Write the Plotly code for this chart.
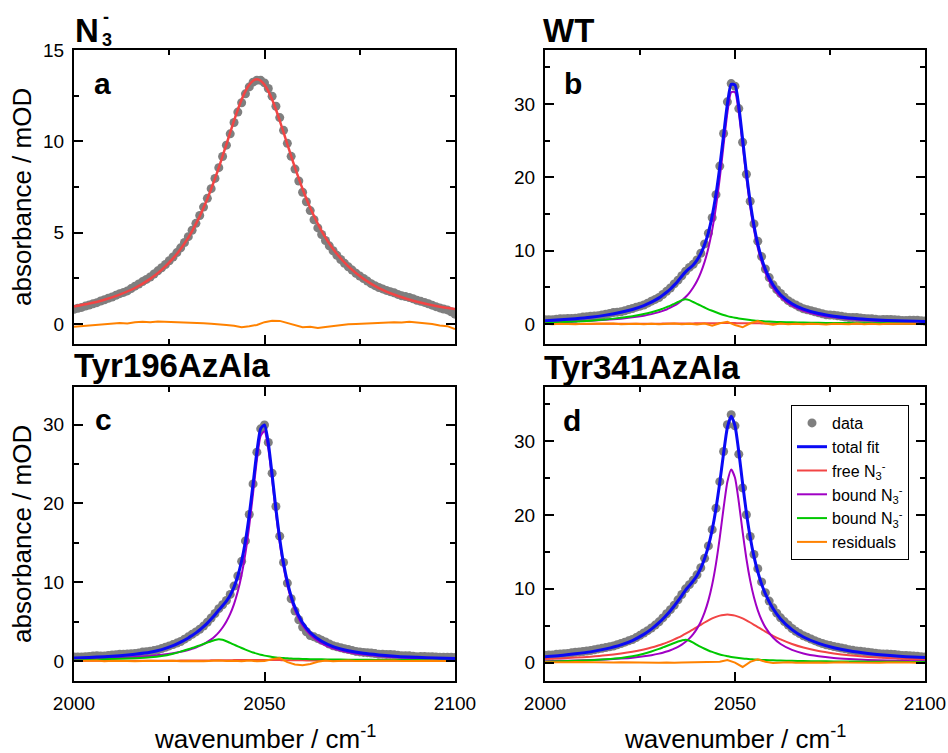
import plotly.graph_objects as go

FONT = "Liberation Sans, Arial, sans-serif"
W, H = 948, 753

# ---------------------------------------------------------------- x grids
WAVENUMBER = list(range(2000, 2101))           # measured spectra, 1 cm-1 steps
RES_WAVENUMBER = list(range(2000, 2101, 2))    # residual traces, 2 cm-1 steps
FIT_WAVENUMBER = [2000, 2004, 2008, 2012, 2016, 2020, 2023, 2026, 2028,
                  2030, 2031, 2032, 2033, 2034, 2035, 2036, 2037, 2038, 2039,
                  2040, 2041, 2042, 2043, 2044, 2045, 2046, 2047, 2048, 2049,
                  2050, 2051, 2052, 2053, 2054, 2055, 2056, 2057, 2058,
                  2060, 2062, 2065, 2068, 2072, 2076, 2080, 2085, 2090, 2095, 2100]

# ---------------------------------------------------------------- panel a: free azide
DATA_A = [0.81, 0.86, 0.91, 0.98, 1.04, 1.11, 1.17, 1.26, 1.33, 1.41,
          1.48, 1.57, 1.66, 1.73, 1.81, 1.94, 2.07, 2.19, 2.32, 2.44,
          2.57, 2.74, 2.91, 3.08, 3.26, 3.46, 3.67, 3.91, 4.17, 4.46,
          4.78, 5.13, 5.51, 5.94, 6.40, 6.88, 7.41, 7.97, 8.56, 9.17,
          9.79, 10.41, 11.03, 11.60, 12.11, 12.60, 12.98, 13.24, 13.35, 13.34,
          13.20, 12.89, 12.47, 11.92, 11.30, 10.60, 9.89, 9.18, 8.48, 7.83,
          7.21, 6.69, 6.21, 5.71, 5.26, 4.90, 4.57, 4.28, 4.01, 3.76,
          3.53, 3.32, 3.13, 2.95, 2.78, 2.63, 2.49, 2.35, 2.21, 2.10,
          2.00, 1.92, 1.84, 1.77, 1.71, 1.62, 1.54, 1.50, 1.45, 1.38,
          1.30, 1.24, 1.18, 1.11, 1.03, 0.95, 0.88, 0.82, 0.77, 0.67,
          0.54]
FIT_A = [0.96, 1.12, 1.33, 1.61, 1.97, 2.47, 2.96, 3.59, 4.11,
         4.73, 5.09, 5.48, 5.90, 6.36, 6.85, 7.39, 7.96, 8.56, 9.19,
         9.84, 10.49, 11.13, 11.74, 12.29, 12.75, 13.10, 13.32, 13.40, 13.32,
         13.10, 12.75, 12.29, 11.74, 11.13, 10.49, 9.84, 9.19, 8.56,
         7.39, 6.36, 5.09, 4.11, 3.15, 2.47, 1.97, 1.53, 1.22, 0.99, 0.82]
RES_A = [-0.15, -0.12, -0.08, -0.05, 0.00, 0.02, 0.05, 0.03, 0.10, 0.12,
         0.10, 0.13, 0.11, 0.08, 0.06, 0.05, 0.03, 0.04, 0.02, 0.00,
         -0.05, -0.10, -0.18, -0.12, -0.05, 0.10, 0.18, 0.17, 0.05, -0.08,
         -0.18, -0.15, -0.22, -0.16, -0.10, -0.06, -0.02, 0.00, 0.02, 0.01,
         0.03, 0.06, 0.10, 0.08, 0.12, 0.08, 0.06, 0.00, -0.08, -0.12,
         -0.28]

# ---------------------------------------------------------------- panel b: WT
DATA_B = [0.57, 0.58, 0.58, 0.65, 0.71, 0.72, 0.74, 0.75, 0.77, 0.86,
          0.94, 1.00, 1.06, 1.09, 1.13, 1.23, 1.33, 1.44, 1.56, 1.61,
          1.67, 1.81, 1.96, 2.11, 2.29, 2.43, 2.59, 2.84, 3.11, 3.35,
          3.61, 4.02, 4.45, 4.91, 5.46, 5.98, 6.58, 7.20, 7.71, 8.13,
          8.74, 9.65, 10.92, 12.37, 14.49, 17.63, 21.53, 25.98, 30.29, 32.78,
          32.43, 29.37, 24.78, 20.41, 16.73, 13.65, 11.29, 9.19, 7.49, 6.33,
          5.34, 4.68, 4.15, 3.63, 3.18, 2.85, 2.60, 2.31, 2.07, 1.94,
          1.82, 1.67, 1.52, 1.39, 1.26, 1.23, 1.20, 1.12, 1.04, 0.95,
          0.88, 0.88, 0.88, 0.81, 0.74, 0.72, 0.72, 0.66, 0.59, 0.61,
          0.61, 0.60, 0.59, 0.53, 0.49, 0.49, 0.50, 0.50, 0.50, 0.45,
          0.41]
TOTAL_B = [0.45, 0.57, 0.71, 0.91, 1.21, 1.60, 1.98, 2.51, 2.98,
           3.56, 3.94, 4.33, 4.77, 5.30, 5.87, 6.52, 7.11, 7.58, 8.05,
           8.70, 9.60, 10.82, 12.47, 14.74, 17.71, 21.43, 25.78, 29.99, 32.68,
           32.58, 29.67, 25.23, 20.61, 16.63, 13.40, 10.89, 8.94, 7.44,
           5.34, 3.99, 2.76, 2.02, 1.42, 1.06, 0.82, 0.62, 0.49, 0.40, 0.33]
FREE_B = [0.01, 0.01, 0.01, 0.01, 0.02, 0.02, 0.03, 0.03, 0.04,
          0.04, 0.05, 0.05, 0.05, 0.06, 0.06, 0.07, 0.07, 0.08, 0.08,
          0.09, 0.09, 0.10, 0.10, 0.11, 0.11, 0.12, 0.12, 0.12, 0.12,
          0.12, 0.11, 0.11, 0.10, 0.10, 0.09, 0.09, 0.08, 0.08,
          0.07, 0.06, 0.05, 0.04, 0.03, 0.02, 0.02, 0.01, 0.01, 0.01, 0.01]
BOUND1_B = [0.26, 0.31, 0.37, 0.45, 0.57, 0.73, 0.90, 1.13, 1.34,
            1.62, 1.79, 1.98, 2.22, 2.49, 2.81, 3.20, 3.67, 4.25, 4.97,
            5.86, 7.01, 8.47, 10.37, 12.83, 16.00, 19.91, 24.44, 28.80, 31.61,
            31.61, 28.80, 24.44, 19.91, 16.00, 12.83, 10.37, 8.47, 7.01,
            4.97, 3.67, 2.49, 1.79, 1.23, 0.90, 0.68, 0.51, 0.39, 0.31, 0.25]
BOUND2_B = [0.18, 0.25, 0.33, 0.45, 0.62, 0.85, 1.05, 1.35, 1.60,
            1.90, 2.10, 2.30, 2.50, 2.75, 3.00, 3.25, 3.37, 3.25, 3.00,
            2.75, 2.50, 2.25, 2.00, 1.80, 1.60, 1.40, 1.22, 1.07, 0.95,
            0.85, 0.76, 0.68, 0.60, 0.53, 0.48, 0.43, 0.39, 0.35,
            0.30, 0.26, 0.22, 0.19, 0.16, 0.14, 0.12, 0.10, 0.09, 0.08, 0.07]
RES_B = [0.02, -0.03, 0.04, 0.00, -0.04, 0.03, 0.05, -0.02, 0.02, 0.06,
         -0.03, 0.01, 0.04, -0.02, 0.03, -0.05, 0.02, 0.06, -0.04, 0.03,
         -0.06, 0.05, -0.25, 0.10, 0.30, -0.15, -0.45, 0.10, 0.40, 0.05,
         -0.10, 0.06, -0.04, 0.02, -0.05, 0.03, 0.00, -0.06, 0.04, 0.01,
         -0.04, 0.05, -0.02, 0.03, -0.05, 0.02, 0.04, -0.03, 0.01, 0.04,
         -0.02]

# ---------------------------------------------------------------- panel c: Tyr196AzAla
DATA_C = [0.51, 0.50, 0.50, 0.54, 0.57, 0.61, 0.65, 0.63, 0.63, 0.68,
          0.74, 0.79, 0.84, 0.85, 0.87, 0.90, 0.93, 1.02, 1.12, 1.17,
          1.23, 1.31, 1.41, 1.56, 1.74, 1.90, 2.07, 2.26, 2.47, 2.76,
          3.06, 3.37, 3.68, 4.02, 4.42, 4.91, 5.45, 6.02, 6.63, 7.13,
          7.67, 8.44, 9.50, 10.78, 12.64, 15.23, 18.59, 22.47, 26.50, 29.46,
          29.95, 27.74, 23.83, 19.60, 15.84, 12.50, 9.88, 7.89, 6.34, 5.22,
          4.29, 3.70, 3.21, 3.06, 2.84, 2.61, 2.41, 2.15, 1.91, 1.79,
          1.67, 1.55, 1.45, 1.33, 1.21, 1.14, 1.08, 1.05, 1.01, 0.93,
          0.85, 0.84, 0.82, 0.80, 0.78, 0.71, 0.66, 0.65, 0.64, 0.59,
          0.54, 0.55, 0.55, 0.54, 0.54, 0.49, 0.46, 0.47, 0.47, 0.45,
          0.43]
TOTAL_C = [0.36, 0.44, 0.54, 0.67, 0.85, 1.10, 1.43, 1.93, 2.38,
           2.91, 3.23, 3.56, 3.92, 4.34, 4.80, 5.31, 5.86, 6.46, 7.00,
           7.59, 8.34, 9.37, 10.78, 12.69, 15.23, 18.53, 22.47, 26.54, 29.48,
           29.95, 27.64, 23.63, 19.30, 15.49, 12.40, 10.03, 8.19, 6.79,
           4.84, 3.61, 2.49, 1.82, 1.29, 0.96, 0.76, 0.57, 0.46, 0.37, 0.31]
FREE_C = [0.01, 0.01, 0.01, 0.01, 0.02, 0.02, 0.03, 0.03, 0.04,
          0.04, 0.05, 0.05, 0.05, 0.06, 0.06, 0.07, 0.07, 0.08, 0.08,
          0.09, 0.09, 0.10, 0.10, 0.11, 0.11, 0.12, 0.12, 0.12, 0.12,
          0.12, 0.11, 0.11, 0.10, 0.10, 0.09, 0.09, 0.08, 0.08,
          0.07, 0.06, 0.05, 0.04, 0.03, 0.02, 0.02, 0.01, 0.01, 0.01, 0.01]
BOUND1_C = [0.23, 0.27, 0.32, 0.39, 0.49, 0.63, 0.78, 0.98, 1.16,
            1.39, 1.54, 1.71, 1.90, 2.13, 2.41, 2.74, 3.14, 3.63, 4.24,
            5.00, 5.97, 7.21, 8.83, 10.94, 13.68, 17.16, 21.28, 25.50, 28.58,
            29.16, 26.95, 23.01, 18.75, 14.99, 11.95, 9.61, 7.81, 6.43,
            4.52, 3.33, 2.24, 1.60, 1.10, 0.80, 0.61, 0.45, 0.35, 0.27, 0.22]
BOUND2_C = [0.12, 0.16, 0.21, 0.27, 0.34, 0.45, 0.62, 0.92, 1.18,
            1.48, 1.64, 1.80, 1.97, 2.15, 2.33, 2.50, 2.65, 2.75, 2.68,
            2.50, 2.28, 2.06, 1.85, 1.64, 1.44, 1.25, 1.07, 0.92, 0.78,
            0.67, 0.58, 0.51, 0.45, 0.40, 0.36, 0.33, 0.30, 0.28,
            0.25, 0.22, 0.20, 0.18, 0.16, 0.14, 0.13, 0.11, 0.10, 0.09, 0.08]
RES_C = [0.03, -0.02, 0.01, 0.04, -0.03, 0.02, 0.05, 0.00, -0.04, 0.03,
         0.01, -0.02, 0.04, 0.02, -0.03, 0.03, 0.00, -0.04, 0.02, 0.05,
         -0.02, 0.03, -0.05, 0.06, -0.04, 0.00, 0.20, 0.35, -0.15, -0.45,
         -0.55, -0.40, -0.10, 0.05, -0.03, 0.02, 0.04, -0.02, 0.00, 0.03,
         -0.03, 0.02, 0.05, -0.01, 0.02, -0.04, 0.01, 0.03, -0.02, 0.02,
         0.00]

# ---------------------------------------------------------------- panel d: Tyr341AzAla
DATA_D = [0.99, 1.01, 1.04, 1.11, 1.16, 1.19, 1.24, 1.32, 1.40, 1.44,
          1.50, 1.56, 1.62, 1.73, 1.85, 1.93, 2.03, 2.13, 2.25, 2.41,
          2.58, 2.76, 2.94, 3.13, 3.38, 3.69, 4.00, 4.32, 4.68, 5.08,
          5.52, 6.05, 6.61, 7.17, 7.77, 8.50, 9.23, 9.99, 10.56, 11.17,
          11.89, 12.85, 14.13, 15.81, 18.01, 20.92, 24.52, 28.61, 32.23, 33.60,
          32.09, 28.25, 23.67, 20.04, 17.09, 14.65, 12.73, 10.93, 9.46, 8.33,
          7.42, 6.70, 6.06, 5.55, 5.09, 4.62, 4.24, 3.93, 3.64, 3.42,
          3.20, 2.97, 2.76, 2.58, 2.41, 2.30, 2.18, 2.08, 1.98, 1.86,
          1.75, 1.66, 1.58, 1.52, 1.48, 1.40, 1.33, 1.26, 1.19, 1.17,
          1.15, 1.12, 1.09, 1.03, 0.96, 0.95, 0.93, 0.88, 0.84, 0.80,
          0.77]
TOTAL_D = [0.79, 0.95, 1.18, 1.45, 1.85, 2.39, 2.98, 3.82, 4.53,
           5.40, 5.90, 6.44, 7.03, 7.66, 8.36, 9.07, 9.82, 10.43, 11.07,
           11.81, 12.79, 14.09, 15.79, 18.01, 20.87, 24.42, 28.39, 31.88, 33.40,
           32.09, 28.55, 24.27, 20.29, 16.99, 14.35, 12.28, 10.63, 9.31,
           7.32, 5.91, 4.46, 3.47, 2.60, 2.01, 1.60, 1.24, 0.98, 0.80, 0.67]
FREE_D = [0.48, 0.56, 0.67, 0.80, 0.98, 1.23, 1.47, 1.78, 2.03,
          2.34, 2.51, 2.70, 2.91, 3.13, 3.37, 3.63, 3.91, 4.20, 4.50,
          4.81, 5.12, 5.43, 5.72, 5.98, 6.19, 6.36, 6.46, 6.50, 6.46,
          6.36, 6.19, 5.98, 5.72, 5.43, 5.12, 4.81, 4.50, 4.20,
          3.63, 3.13, 2.51, 2.03, 1.56, 1.23, 0.98, 0.76, 0.61, 0.50, 0.41]
BOUND1_D = [0.19, 0.23, 0.27, 0.33, 0.42, 0.54, 0.66, 0.84, 1.00,
            1.21, 1.34, 1.49, 1.67, 1.88, 2.14, 2.44, 2.82, 3.28, 3.86,
            4.60, 5.55, 6.79, 8.43, 10.59, 13.42, 16.96, 20.96, 24.52, 26.18,
            25.05, 21.75, 17.74, 14.07, 11.10, 8.81, 7.08, 5.77, 4.77,
            3.39, 2.51, 1.71, 1.23, 0.85, 0.62, 0.48, 0.35, 0.27, 0.22, 0.18]
BOUND2_D = [0.12, 0.17, 0.24, 0.32, 0.45, 0.63, 0.85, 1.20, 1.50,
            1.85, 2.05, 2.25, 2.45, 2.65, 2.85, 3.00, 3.10, 2.95, 2.70,
            2.40, 2.12, 1.87, 1.64, 1.44, 1.26, 1.10, 0.97, 0.86, 0.76,
            0.68, 0.61, 0.55, 0.50, 0.46, 0.42, 0.39, 0.36, 0.34,
            0.30, 0.27, 0.24, 0.21, 0.18, 0.16, 0.14, 0.12, 0.10, 0.09, 0.08]
RES_D = [0.05, 0.02, 0.06, 0.03, 0.07, 0.04, 0.02, 0.06, 0.03, 0.00,
         0.04, 0.02, -0.02, 0.03, 0.00, -0.03, 0.02, -0.04, 0.01, 0.03,
         -0.02, 0.04, 0.00, 0.10, 0.35, 0.00, -0.60, 0.10, 0.45, 0.10,
         -0.05, 0.00, 0.04, -0.02, 0.02, 0.05, 0.01, -0.03, 0.02, 0.04,
         0.00, -0.02, 0.03, 0.00, -0.04, 0.02, 0.04, -0.02, 0.01, -0.03,
         -0.05]

for arr in (DATA_A, DATA_B, DATA_C, DATA_D):
    assert len(arr) == len(WAVENUMBER)
for arr in (RES_A, RES_B, RES_C, RES_D):
    assert len(arr) == len(RES_WAVENUMBER)
for arr in (FIT_A, TOTAL_B, FREE_B, BOUND1_B, BOUND2_B, TOTAL_C, FREE_C, BOUND1_C,
            BOUND2_C, TOTAL_D, FREE_D, BOUND1_D, BOUND2_D):
    assert len(arr) == len(FIT_WAVENUMBER)

# ---------------------------------------------------------------- styling
C_DATA = "#7f7f7f"
C_TOTAL = "#0a0af5"
C_FREE = "#f24545"
C_BOUND1 = "#a000c4"
C_BOUND2 = "#00c800"
C_RES = "#ff8200"

NAME_FREE = "free N<sub>3</sub><sup>-</sup>"
NAME_BOUND = "bound N<sub>3</sub><sup>-</sup>"

# panel frames in pixels (left, right) / (top, bottom) and y ranges
PANELS = [
    dict(key="a", px=(74, 455), py=(50, 344), yrange=[-1.095, 15.0], dtick=5),
    dict(key="b", px=(545, 925), py=(50, 344), yrange=[-2.73, 37.36], dtick=10),
    dict(key="c", px=(74, 455), py=(387, 681), yrange=[-2.55, 34.77], dtick=10),
    dict(key="d", px=(545, 925), py=(387, 681), yrange=[-2.5, 37.35], dtick=10),
]

fig = go.Figure()


def spline(x, y, color, width, ax, name=None, legend=False, rank=None):
    fig.add_trace(go.Scatter(
        x=x, y=y, mode="lines", name=name, showlegend=legend, legendrank=rank,
        line=dict(color=color, width=width, shape="spline", smoothing=0.6),
        xaxis=ax[0], yaxis=ax[1], hoverinfo="skip"))


def points(y, ax, legend=False):
    fig.add_trace(go.Scatter(
        x=WAVENUMBER, y=y, mode="markers", name="data", showlegend=legend,
        legendrank=1, marker=dict(color=C_DATA, size=9, line=dict(width=0)),
        xaxis=ax[0], yaxis=ax[1], hoverinfo="skip"))


def residual(y, ax, legend=False):
    fig.add_trace(go.Scatter(
        x=RES_WAVENUMBER, y=y, mode="lines", name="residuals", showlegend=legend,
        legendrank=6, line=dict(color=C_RES, width=2),
        xaxis=ax[0], yaxis=ax[1], hoverinfo="skip"))


# panel a
ax = ("x", "y")
points(DATA_A, ax)
residual(RES_A, ax)
spline(FIT_WAVENUMBER, FIT_A, C_FREE, 2.5, ax)

# panel b
ax = ("x2", "y2")
points(DATA_B, ax)
spline(FIT_WAVENUMBER, FREE_B, C_FREE, 2, ax)
spline(FIT_WAVENUMBER, BOUND1_B, C_BOUND1, 2, ax)
spline(FIT_WAVENUMBER, BOUND2_B, C_BOUND2, 2, ax)
spline(FIT_WAVENUMBER, TOTAL_B, C_TOTAL, 3, ax)
residual(RES_B, ax)

# panel c
ax = ("x3", "y3")
points(DATA_C, ax)
spline(FIT_WAVENUMBER, FREE_C, C_FREE, 2, ax)
spline(FIT_WAVENUMBER, BOUND1_C, C_BOUND1, 2, ax)
spline(FIT_WAVENUMBER, BOUND2_C, C_BOUND2, 2, ax)
spline(FIT_WAVENUMBER, TOTAL_C, C_TOTAL, 3, ax)
residual(RES_C, ax)

# panel d (carries the legend)
ax = ("x4", "y4")
points(DATA_D, ax, legend=True)
spline(FIT_WAVENUMBER, FREE_D, C_FREE, 2, ax, NAME_FREE, True, 3)
spline(FIT_WAVENUMBER, BOUND1_D, C_BOUND1, 2, ax, NAME_BOUND, True, 4)
spline(FIT_WAVENUMBER, BOUND2_D, C_BOUND2, 2, ax, NAME_BOUND, True, 5)
spline(FIT_WAVENUMBER, TOTAL_D, C_TOTAL, 3, ax, "total fit", True, 2)
residual(RES_D, ax, legend=True)

common = dict(showline=True, linecolor="black", linewidth=2, mirror="allticks",
              ticks="inside", ticklen=9, tickwidth=2, tickcolor="black",
              showgrid=False, zeroline=False, automargin=False,
              ticklabelstandoff=4,
              tickfont=dict(family=FONT, size=19, color="black"))

for i, p in enumerate(PANELS, start=1):
    sfx = "" if i == 1 else str(i)
    fig.layout["xaxis" + sfx] = dict(
        domain=[p["px"][0] / W, p["px"][1] / W], anchor="y" + sfx,
        range=[2000, 2100], tickmode="linear", tick0=2000, dtick=50,
        minor=dict(tick0=2000, dtick=25, ticks="inside", ticklen=5, tickwidth=2,
                   tickcolor="black", showgrid=False),
        showticklabels=p["key"] in ("c", "d"), **common)
    fig.layout["yaxis" + sfx] = dict(
        domain=[1 - p["py"][1] / H, 1 - p["py"][0] / H], anchor="x" + sfx,
        range=p["yrange"], tickmode="linear", tick0=0, dtick=p["dtick"],
        minor=dict(tick0=0, dtick=p["dtick"] / 2, ticks="inside", ticklen=5,
                   tickwidth=2, tickcolor="black", showgrid=False),
        **common)


def label(text, x, y, size, bold=True, xanchor="left", angle=0):
    fig.add_annotation(
        text=f"<b>{text}</b>" if bold else text, x=x / W, y=1 - y / H,
        xref="paper", yref="paper", xanchor=xanchor, yanchor="middle",
        textangle=angle, showarrow=False, borderpad=0,
        font=dict(family=FONT, size=size, color="black"))


# panel titles
label("N", 74, 30.5, 33)
label("3", 101, 40, 18)
label("-", 102, 17.5, 18)
label("WT", 542, 30.5, 33)
label("Tyr196AzAla", 73, 365.5, 33)
label("Tyr341AzAla", 543, 367.5, 33)

# panel letters
label("a", 93, 83.5, 30)
label("b", 563, 83.5, 30)
label("c", 94, 419.5, 30)
label("d", 562, 420.5, 30)

# axis titles
for yc in (197, 534):
    label("absorbance / mOD", 22, yc, 26, bold=False, xanchor="center", angle=-90)
for xc in (264.5, 735):
    label("wavenumber / cm<sup>-1</sup>", xc, 737, 26, bold=False, xanchor="center")

fig.update_layout(
    template="none",
    width=W, height=H, margin=dict(l=0, r=0, t=0, b=0, pad=0),
    plot_bgcolor="white", paper_bgcolor="white",
    font=dict(family=FONT, color="black"),
    showlegend=True,
    legend=dict(x=791 / W, y=1 - 405 / H, xanchor="left", yanchor="top",
                bgcolor="white", bordercolor="black", borderwidth=1,
                font=dict(family=FONT, size=16, color="black"),
                traceorder="normal", itemwidth=30, tracegroupgap=0),
)

fig.write_html("out.html")
